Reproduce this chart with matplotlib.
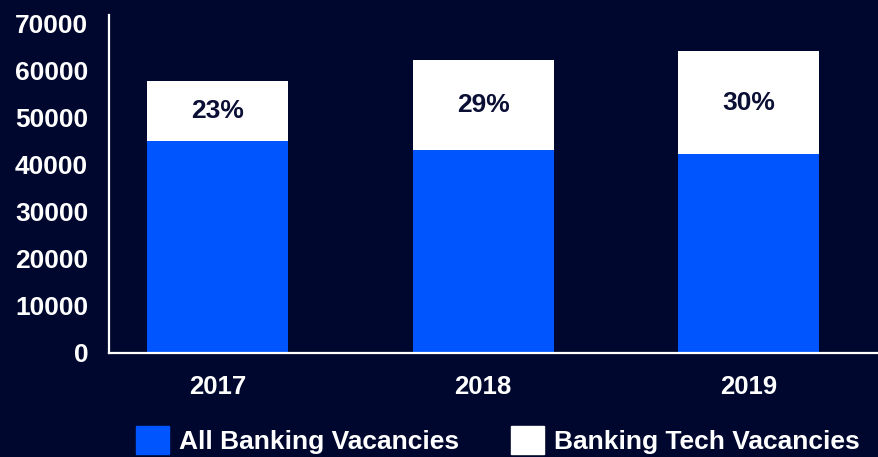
import matplotlib.pyplot as plt
from matplotlib.patches import Patch

### Daten
years       = ["2017", "2018", "2019"]
allBanking  = [45100, 43200, 42300]
techVac     = [12770, 19150, 21950]
techShare   = ["23%", "29%", "30%"]

bg    = "#00072e"
blue  = "#0055ff"
white = "#ffffff"

plt.rcParams['font.family'] = ['Liberation Sans', 'DejaVu Sans']
plt.rcParams['font.weight'] = 'bold'

fig = plt.figure(figsize=(8.79, 4.57), dpi=100, facecolor=bg)
ax = fig.add_axes([109/879, 1 - 353/457, 1 - 109/879, (353 - 15)/457])
ax.set_facecolor(bg)

x = range(len(years))
ax.bar(x, allBanking, width=0.531, color=blue, label="All Banking Vacancies")
ax.bar(x, techVac, width=0.531, bottom=allBanking, color=white, label="Banking Tech Vacancies")

# Prozentwerte mittig im weissen Teil
for i in x:
    ax.text(i, allBanking[i] + techVac[i]/2, techShare[i], ha="center", va="center",
            fontsize=19, fontweight="bold", color="#0b0f35")

ax.set_xlim(-0.409, 2.49)
ax.set_ylim(0, 71900)
ax.set_xticks(list(x))
ax.set_xticklabels(years)
ax.set_yticks(range(0, 70001, 10000))
ax.tick_params(axis="y", length=0, pad=15, labelsize=19, labelcolor=white)
ax.tick_params(axis="x", length=0, pad=16, labelsize=18.5, labelcolor=white)

for s in ["top", "right"]:
    ax.spines[s].set_visible(False)
for s in ["left", "bottom"]:
    ax.spines[s].set_color(white)
    ax.spines[s].set_linewidth(1.6)

handles = [Patch(color=blue), Patch(color=white)]
fig.legend(handles, ["All Banking Vacancies", "Banking Tech Vacancies"], ncol=2,
           loc="center left", bbox_to_anchor=(136/879, 1 - 440/457), frameon=False,
           fontsize=19, labelcolor=white, handlelength=1.25, handleheight=1.25,
           handletextpad=0.38, columnspacing=1.95, borderpad=0, borderaxespad=0)

fig.savefig("out.png", dpi=100, facecolor=bg)
